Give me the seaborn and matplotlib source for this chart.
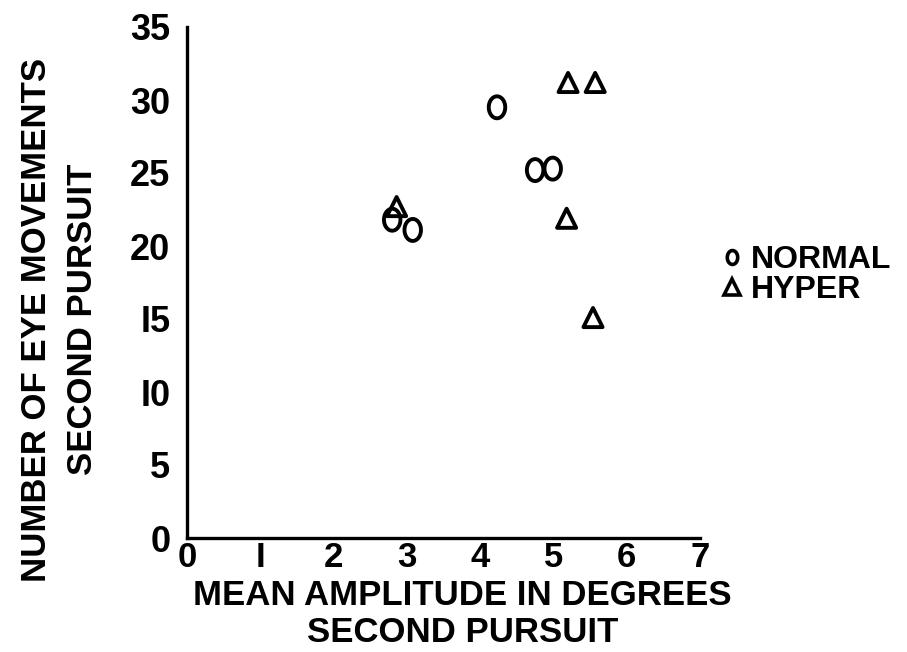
import numpy as np
import pandas as pd
import matplotlib
matplotlib.use("Agg")
import matplotlib.pyplot as plt
from matplotlib.path import Path
from matplotlib.lines import Line2D
import seaborn as sns

# data
normal_x = [4.23, 4.75, 4.99, 2.80, 3.08]
normal_y = [29.5, 25.2, 25.3, 21.8, 21.1]
hyper_x = [5.20, 5.57, 2.86, 5.18, 5.54]
hyper_y = [31.2, 31.2, 22.7, 21.9, 15.1]
x_ticks = [0, 1, 2, 3, 4, 5, 6, 7]
y_ticks = [0, 5, 10, 15, 20, 25, 30, 35]
x_tick_labels = ["0", "I", "2", "3", "4", "5", "6", "7"]
y_tick_labels = ["0", "5", "I0", "I5", "20", "25", "30", "35"]
groups = ["NORMAL", "HYPER"]

df = pd.concat([
    pd.DataFrame({"x": normal_x, "y": normal_y, "group": groups[0]}),
    pd.DataFrame({"x": hyper_x, "y": hyper_y, "group": groups[1]}),
])

sns.set_theme(style="white")
plt.rcParams["font.family"] = ["Liberation Sans", "DejaVu Sans"]
plt.rcParams["text.color"] = "black"
plt.rcParams["axes.labelcolor"] = "black"

# elliptical "o" marker
t = np.linspace(0, 2 * np.pi, 60)
ellipse = Path(np.column_stack([0.75 * np.cos(t), np.sin(t)]), closed=True)

fig = plt.figure(figsize=(9.07, 6.52), dpi=100)
ax = fig.add_axes([187 / 907, 114 / 652, 513 / 907, 511 / 652])

markers = {"NORMAL": ellipse, "HYPER": "^"}
sizes = {"NORMAL": 250, "HYPER": 190}
for g in groups:
    sub = df[df["group"] == g]
    sns.scatterplot(data=sub, x="x", y="y", marker=markers[g], s=sizes[g],
                    facecolors="none", edgecolors="black", linewidths=2.8,
                    ax=ax, legend=False, zorder=3)

ax.set_xlim(0, 7)
ax.set_ylim(0, 35)
ax.set_xticks(x_ticks)
ax.set_xticklabels(x_tick_labels)
ax.set_yticks(y_ticks)
ax.set_yticklabels(y_tick_labels)
ax.tick_params(axis="both", length=0, colors="black")
ax.tick_params(axis="x", pad=2, labelsize=25)
ax.tick_params(axis="y", pad=12, labelsize=26)
for lbl in ax.get_xticklabels() + ax.get_yticklabels():
    lbl.set_fontweight("bold")

sns.despine(ax=ax)
for s in ["left", "bottom"]:
    ax.spines[s].set_linewidth(2.4)
    ax.spines[s].set_color("black")

ax.set_xlabel("")
ax.set_ylabel("")
fig.text(0.51, 0.058, "MEAN AMPLITUDE IN DEGREES\nSECOND PURSUIT", fontsize=25,
         fontweight="bold", linespacing=1.15, ha="center", va="center",
         color="black")
fig.text(0.066, 0.51, "NUMBER OF EYE MOVEMENTS\nSECOND PURSUIT", fontsize=25,
         fontweight="bold", linespacing=1.5, ha="center", va="center",
         rotation=90, color="black")

handles = [
    Line2D([], [], marker=ellipse, linestyle="none", markersize=10,
           markerfacecolor="none", markeredgecolor="black", markeredgewidth=2.6),
    Line2D([], [], marker="^", linestyle="none", markersize=12,
           markerfacecolor="none", markeredgecolor="black", markeredgewidth=2.6),
]
leg = ax.legend(handles, groups, loc="center left", bbox_to_anchor=(1.0, 0.515),
                frameon=False, fontsize=23, handlelength=0.6, handletextpad=0.3,
                labelspacing=0.0, borderaxespad=0.3)
for txt in leg.get_texts():
    txt.set_fontweight("bold")
    txt.set_color("black")

fig.savefig("out.png", dpi=100, facecolor="white")
